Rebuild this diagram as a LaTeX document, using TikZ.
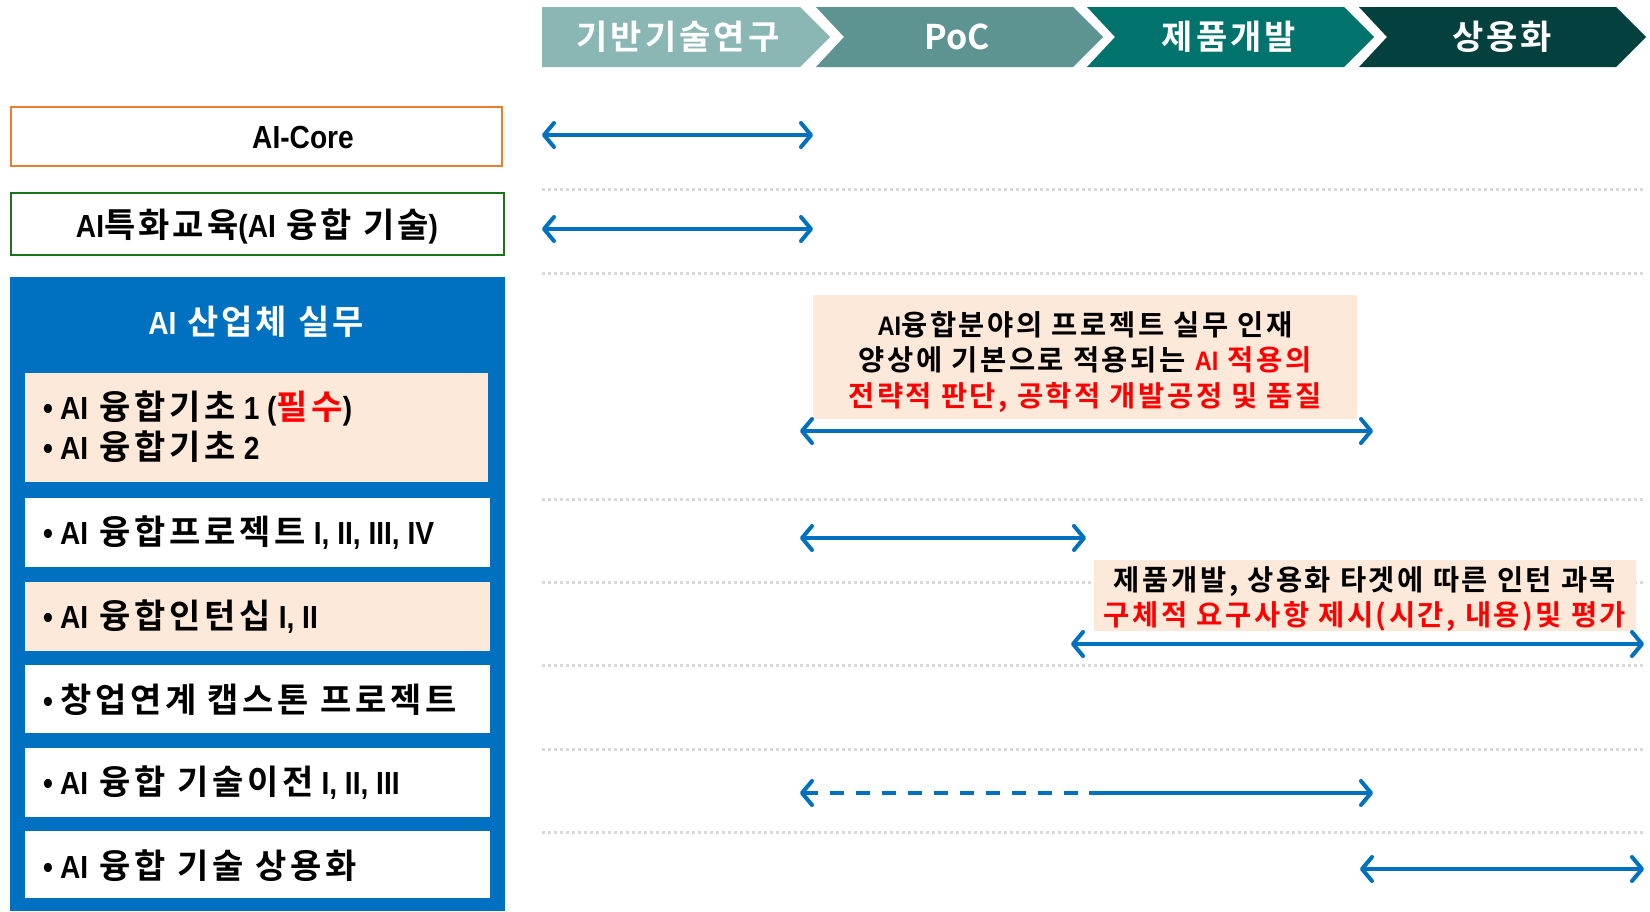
\documentclass[tikz,border=0pt]{standalone}
\usepackage{fontspec}
\setmainfont{Noto Sans CJK KR}[BoldFont={Noto Sans CJK KR Bold},LetterSpace=9]
\newfontfamily\latf{Liberation Sans}[Scale=0.94,FakeStretch=0.88,BoldFont={Liberation Sans Bold}]
\newcommand\La[1]{{\latf\bfseries #1}}
\usetikzlibrary{arrows.meta}
\definecolor{chA}{RGB}{138,182,179}
\definecolor{chB}{RGB}{93,147,145}
\definecolor{chC}{RGB}{0,115,108}
\definecolor{chD}{RGB}{3,64,62}
\definecolor{cblue}{RGB}{0,112,192}
\definecolor{cpeach}{RGB}{253,233,217}
\definecolor{corange}{RGB}{237,125,49}
\definecolor{cgreen}{RGB}{24,118,24}
\definecolor{cgrid}{RGB}{217,217,217}
\definecolor{cred}{RGB}{255,0,0}
\begin{document}
\begin{tikzpicture}[x=1pt,y=-1pt,
  ctext/.style={text=white,font=\fontsize{34}{36}\selectfont\bfseries,inner sep=0},
  item/.style={anchor=west,font=\fontsize{34}{36}\selectfont\bfseries\addfontfeature{LetterSpace=11},inner sep=0},
  ttext/.style={font=\fontsize{34}{36}\selectfont\bfseries,inner sep=0},
  callout/.style={font=\fontsize{28.5}{35.5}\selectfont\bfseries,align=center,inner sep=0},
  conn/.style={draw=cblue,line width=4pt,{Straight Barb[length=10pt,width=24pt,round]}-{Straight Barb[length=10pt,width=24pt,round]}},
  gridline/.style={draw=cgrid,line width=3pt,dash pattern=on 3pt off 3pt},
]
\useasboundingbox (0,0) rectangle (1650,911);
% chevrons
\fill[chA] (542,7) -- (800,7) -- (830,37) -- (800,67) -- (542,67) -- cycle;
\fill[chB] (816,7) -- (1073,7) -- (1103,37) -- (1073,67) -- (816,67) -- (844,37) -- cycle;
\fill[chC] (1087,7) -- (1344,7) -- (1374,37) -- (1344,67) -- (1087,67) -- (1115,37) -- cycle;
\fill[chD] (1359,7) -- (1616,7) -- (1646,37) -- (1616,67) -- (1359,67) -- (1387,37) -- cycle;
\node[ctext] (s1) at (678,37) {기반기술연구};
\node[ctext] (s2) at (957,37) {\addfontfeature{LetterSpace=0}PoC};
\node[ctext] (s3) at (1229,37) {제품개발};
\node[ctext] (s4) at (1502,37) {상용화};
% grid lines
\foreach \y/\n in {189/g1,273/g2,499/g3,582/g4,665/g5,749/g6,832/g7}{
  \coordinate (\n a) at (542,\y); \coordinate (\n b) at (1646,\y);
  \draw[gridline] (\n a) -- (\n b);
}
% left boxes
\draw[corange,line width=2.5pt] (11,107) rectangle (502,166);
\node[ttext] (core) at (303,137) {\La{AI-Core}};
\draw[cgreen,line width=2.5pt] (11,193) rectangle (504,255);
\node[ttext] (edu) at (257,226) {\La{AI}특화교육\La{(AI} 융합 기술\La{)}};
\fill[cblue] (10,277) rectangle (505,911);
\node[ttext,text=white] (prac) at (256,322) {\La{AI} 산업체 실무};
\fill[cpeach] (25,373) rectangle (488,482);
\fill[white] (25,498) rectangle (490,567);
\fill[cpeach] (25,582) rectangle (490,651);
\fill[white] (25,665) rectangle (490,733);
\fill[white] (25,748) rectangle (490,817);
\fill[white] (25,831) rectangle (490,898);
\node[item] (i1) at (43,408) {\La{•}\hspace{7pt}\La{AI} 융합기초\La{ 1 (}\textcolor{cred}{필수}\La{)}};
\node[item] (i2) at (43,447) {\La{•}\hspace{7pt}\La{AI} 융합기초\La{ 2}};
\node[item] (i3) at (43,533) {\La{•}\hspace{7pt}\La{AI} 융합프로젝트\La{ I, II, III, IV}};
\node[item] (i4) at (43,617) {\La{•}\hspace{7pt}\La{AI} 융합인턴십\La{ I, II}};
\node[item] (i5) at (43,700) {\La{•}\hspace{7pt}창업연계 캡스톤 프로젝트};
\node[item] (i6) at (43,783) {\La{•}\hspace{7pt}\La{AI} 융합 기술이전\La{ I, II, III}};
\node[item] (i7) at (43,866) {\La{•}\hspace{7pt}\La{AI} 융합 기술 상용화};
% callouts
\fill[cpeach] (813,295) rectangle (1357,419);
\node[callout] (c1) at (1085,362) {\La{AI}융합분야의 프로젝트 실무 인재\\양상에 기본으로 적용되는 \textcolor{cred}{\La{AI} 적용의}\\\textcolor{cred}{전략적 판단, 공학적 개발공정 및 품질}};
\fill[cpeach] (1094,560) rectangle (1636,631);
\node[callout] (c2) at (1365,599) {제품개발, 상용화 타겟에 따른 인턴 과목\\\textcolor{cred}{구체적 요구사항 제시(시간, 내용)및 평가}};
% arrows
\coordinate (a1l) at (542,135); \coordinate (a1r) at (813,135);
\coordinate (a2l) at (542,229); \coordinate (a2r) at (813,229);
\coordinate (a3l) at (800,431); \coordinate (a3r) at (1373,431);
\coordinate (a4l) at (800,538); \coordinate (a4r) at (1086,538);
\coordinate (a5l) at (1071,644); \coordinate (a5r) at (1644,644);
\coordinate (a6l) at (800,793); \coordinate (a6m) at (1089,793); \coordinate (a6r) at (1373,793);
\coordinate (a7l) at (1360,869); \coordinate (a7r) at (1644,869);
\draw[conn] (a1l) -- (a1r);
\draw[conn] (a2l) -- (a2r);
\draw[conn] (a3l) -- (a3r);
\draw[conn] (a4l) -- (a4r);
\draw[conn] (a5l) -- (a5r);
\draw[draw=cblue,line width=4pt,dash pattern=on 14pt off 12pt,{Straight Barb[length=10pt,width=24pt,round]}-] (a6l) -- (a6m);
\draw[draw=cblue,line width=4pt,-{Straight Barb[length=10pt,width=24pt,round]}] (a6m) -- (a6r);
\draw[conn] (a7l) -- (a7r);
\end{tikzpicture}
\end{document}
